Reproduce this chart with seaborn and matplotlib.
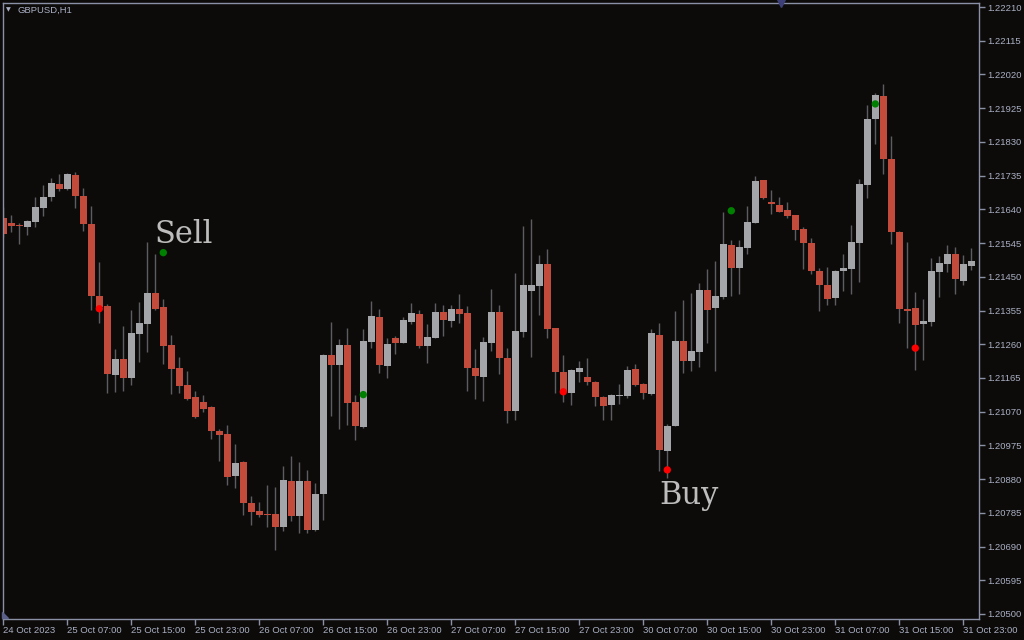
import numpy as np
import pandas as pd
import matplotlib
matplotlib.use("Agg")
import matplotlib.pyplot as plt
import seaborn as sns

# GBPUSD H1 candles (bar 0 = 24 Oct 23:00)
opens = [
    1.21616, 1.21602, 1.21597, 1.21591, 1.21605, 1.21645, 1.21676, 1.21711, 1.21698, 1.21737,
    1.21678, 1.21599, 1.21396, 1.21368, 1.21174, 1.21218, 1.21166, 1.21290, 1.21318, 1.21404,
    1.21365, 1.21258, 1.21193, 1.21145, 1.21111, 1.21097, 1.21083, 1.21016, 1.21007, 1.20889,
    1.20928, 1.20813, 1.20790, 1.20782, 1.20782, 1.20745, 1.20875, 1.20776, 1.20875, 1.20737,
    1.20838, 1.21230, 1.21201, 1.21258, 1.21097, 1.21027, 1.21266, 1.21337, 1.21199, 1.21278,
    1.21264, 1.21323, 1.21345, 1.21255, 1.21278, 1.21351, 1.21325, 1.21359, 1.21348, 1.21193,
    1.21168, 1.21264, 1.21351, 1.21221, 1.21072, 1.21294, 1.21410, 1.21424, 1.21486, 1.21306,
    1.21183, 1.21123, 1.21183, 1.21168, 1.21154, 1.21111, 1.21089, 1.21114, 1.21114, 1.21190,
    1.21148, 1.21120, 1.21286, 1.20959, 1.21030, 1.21269, 1.21213, 1.21238, 1.21413, 1.21362,
    1.21393, 1.21540, 1.21475, 1.21531, 1.21602, 1.21723, 1.21661, 1.21652, 1.21638, 1.21624,
    1.21584, 1.21545, 1.21466, 1.21427, 1.21390, 1.21466, 1.21472, 1.21545, 1.21709, 1.21894,
    1.21959, 1.21782, 1.21576, 1.21359, 1.21362, 1.21317, 1.21323, 1.21464, 1.21486, 1.21514,
    1.21437, 1.21480,
]
highs = [
    1.21647, 1.21624, 1.21602, 1.21610, 1.21675, 1.21708, 1.21727, 1.21740, 1.21741, 1.21744,
    1.21699, 1.21649, 1.21492, 1.21373, 1.21247, 1.21312, 1.21356, 1.21379, 1.21548, 1.21514,
    1.21387, 1.21286, 1.21224, 1.21185, 1.21128, 1.21117, 1.21086, 1.21021, 1.21032, 1.20979,
    1.20931, 1.20832, 1.20816, 1.20864, 1.20858, 1.20917, 1.20945, 1.20928, 1.20906, 1.20869,
    1.21232, 1.21323, 1.21275, 1.21306, 1.21117, 1.21303, 1.21382, 1.21359, 1.21278, 1.21283,
    1.21337, 1.21376, 1.21356, 1.21317, 1.21376, 1.21371, 1.21371, 1.21401, 1.21368, 1.21247,
    1.21280, 1.21416, 1.21371, 1.21249, 1.21461, 1.21593, 1.21613, 1.21511, 1.21528, 1.21307,
    1.21230, 1.21190, 1.21213, 1.21221, 1.21156, 1.21114, 1.21120, 1.21148, 1.21199, 1.21204,
    1.21151, 1.21303, 1.21320, 1.21035, 1.21354, 1.21385, 1.21404, 1.21432, 1.21472, 1.21494,
    1.21632, 1.21554, 1.21554, 1.21649, 1.21734, 1.21724, 1.21694, 1.21675, 1.21661, 1.21625,
    1.21590, 1.21559, 1.21475, 1.21478, 1.21469, 1.21514, 1.21596, 1.21725, 1.21934, 1.21968,
    1.21993, 1.21847, 1.21579, 1.21548, 1.21407, 1.21387, 1.21503, 1.21509, 1.21540, 1.21534,
    1.21511, 1.21531,
]
lows = [
    1.21562, 1.21576, 1.21542, 1.21568, 1.21591, 1.21621, 1.21664, 1.21692, 1.21694, 1.21643,
    1.21580, 1.21356, 1.21319, 1.21122, 1.21126, 1.21129, 1.21145, 1.21211, 1.21239, 1.21357,
    1.21205, 1.21121, 1.21123, 1.21103, 1.21052, 1.21069, 1.20993, 1.20931, 1.20863, 1.20855,
    1.20779, 1.20751, 1.20773, 1.20745, 1.20680, 1.20734, 1.20762, 1.20728, 1.20728, 1.20735,
    1.20765, 1.21058, 1.21021, 1.21032, 1.20990, 1.21024, 1.21249, 1.21179, 1.21165, 1.21232,
    1.21263, 1.21317, 1.21249, 1.21207, 1.21277, 1.21283, 1.21309, 1.21320, 1.21128, 1.21106,
    1.21100, 1.21241, 1.21176, 1.21038, 1.21047, 1.21280, 1.21224, 1.21342, 1.21278, 1.21123,
    1.21097, 1.21089, 1.21154, 1.21145, 1.21086, 1.21047, 1.21047, 1.21092, 1.21109, 1.21142,
    1.21106, 1.21117, 1.20903, 1.20883, 1.21029, 1.21179, 1.21185, 1.21196, 1.21264, 1.21185,
    1.21387, 1.21396, 1.21401, 1.21514, 1.21601, 1.21669, 1.21627, 1.21632, 1.21616, 1.21554,
    1.21472, 1.21458, 1.21354, 1.21371, 1.21371, 1.21410, 1.21401, 1.21435, 1.21672, 1.21824,
    1.21740, 1.21542, 1.21320, 1.21249, 1.21187, 1.21216, 1.21311, 1.21393, 1.21464, 1.21401,
    1.21427, 1.21469,
]
closes = [
    1.21571, 1.21593, 1.21594, 1.21607, 1.21647, 1.21675, 1.21714, 1.21698, 1.21740, 1.21678,
    1.21600, 1.21397, 1.21366, 1.21177, 1.21218, 1.21166, 1.21292, 1.21320, 1.21404, 1.21360,
    1.21256, 1.21190, 1.21142, 1.21106, 1.21055, 1.21078, 1.21016, 1.21004, 1.20886, 1.20925,
    1.20813, 1.20787, 1.20779, 1.20779, 1.20745, 1.20878, 1.20776, 1.20875, 1.20737, 1.20838,
    1.21230, 1.21201, 1.21258, 1.21094, 1.21030, 1.21269, 1.21340, 1.21201, 1.21261, 1.21264,
    1.21328, 1.21348, 1.21255, 1.21280, 1.21351, 1.21328, 1.21359, 1.21345, 1.21193, 1.21171,
    1.21266, 1.21351, 1.21221, 1.21072, 1.21297, 1.21427, 1.21427, 1.21486, 1.21303, 1.21183,
    1.21125, 1.21187, 1.21193, 1.21154, 1.21111, 1.21086, 1.21117, 1.21117, 1.21187, 1.21145,
    1.21123, 1.21292, 1.20962, 1.21030, 1.21269, 1.21213, 1.21241, 1.21413, 1.21356, 1.21396,
    1.21542, 1.21475, 1.21534, 1.21604, 1.21720, 1.21672, 1.21655, 1.21633, 1.21621, 1.21582,
    1.21545, 1.21466, 1.21427, 1.21387, 1.21466, 1.21475, 1.21548, 1.21711, 1.21894, 1.21962,
    1.21782, 1.21576, 1.21359, 1.21354, 1.21314, 1.21325, 1.21466, 1.21489, 1.21514, 1.21443,
    1.21486, 1.21494,
]

# indicator dots
sell_bars = [20, 45, 91, 109]
sell_prices = [1.21518, 1.21118, 1.21636, 1.21937]
buy_bars = [12, 70, 83, 114]
buy_prices = [1.21360, 1.21126, 1.20906, 1.21249]

time_labels = [
    "24 Oct 2023", "25 Oct 07:00", "25 Oct 15:00", "25 Oct 23:00",
    "26 Oct 07:00", "26 Oct 15:00", "26 Oct 23:00", "27 Oct 07:00",
    "27 Oct 15:00", "27 Oct 23:00", "30 Oct 07:00", "30 Oct 15:00",
    "30 Oct 23:00", "31 Oct 07:00", "31 Oct 15:00", "31 Oct 23:00",
]
price_ticks = [
    1.20500, 1.20595, 1.20690, 1.20785, 1.20880, 1.20975, 1.21070, 1.21165,
    1.21260, 1.21355, 1.21450, 1.21545, 1.21640, 1.21735, 1.21830, 1.21925,
    1.22020, 1.22115, 1.22210,
]

BG = "#0d0b09"
FRAME = "#8a91a6"
LABEL = "#a9b0c4"
BEAR = "#c34b3c"
BULL = "#a3a5a8"
WICK = "#5c5d60"

sns.set_style("dark", {"axes.facecolor": BG, "figure.facecolor": BG,
                       "axes.edgecolor": FRAME, "axes.grid": False})
plt.rcParams["font.family"] = ["Liberation Sans", "DejaVu Sans"]

df = pd.DataFrame({"bar": np.arange(len(opens)), "open": opens, "high": highs,
                   "low": lows, "close": closes})
df["bull"] = df["close"] >= df["open"]
df["body_lo"] = df[["open", "close"]].min(axis=1)
df["body_h"] = (df["close"] - df["open"]).abs().clip(lower=0.00003)

fig = plt.figure(figsize=(10.24, 6.4), dpi=100)
ax = fig.add_axes([2.5 / 1024, 1 - 618.5 / 640, 976 / 1024, 616 / 640])

ax.vlines(df["bar"], df["low"], df["high"], color=WICK, lw=1, zorder=1)
ax.bar(df["bar"], df["body_h"], bottom=df["body_lo"], width=0.82,
       color=np.where(df["bull"], BULL, BEAR), linewidth=0, zorder=2)

sig = pd.DataFrame({
    "bar": sell_bars + buy_bars,
    "price": sell_prices + buy_prices,
    "kind": ["sell"] * len(sell_bars) + ["buy"] * len(buy_bars),
})
sns.scatterplot(data=sig, x="bar", y="price", hue="kind",
                palette={"sell": "#008000", "buy": "#ff0000"},
                s=28, linewidth=0, legend=False, zorder=3, ax=ax)

ax.text(18.85, 1.21545, "Sell", family="DejaVu Serif", fontsize=22,
        color="#bdbdbd", ha="left", va="baseline")
ax.text(81.95, 1.20810, "Buy", family="DejaVu Serif", fontsize=22,
        color="#bdbdbd", ha="left", va="baseline")

ax.set_xlim(-0.1, 121.9)
ax.set_ylim(1.204873, 1.222227)
ax.set_xlabel("")
ax.set_ylabel("")

ax.yaxis.tick_right()
ax.set_yticks(price_ticks)
ax.set_yticklabels([f"{p:.5f}" for p in price_ticks])
ax.set_xticks(np.arange(0, 121, 8))
ax.set_xticklabels(time_labels, ha="left")
ax.tick_params(axis="both", direction="out", length=4, width=1, color=FRAME,
               labelcolor=LABEL, labelsize=6.8)
ax.tick_params(axis="x", pad=1.5, bottom=True)
ax.tick_params(axis="y", pad=2, right=True)
for t in ax.get_xticklabels():
    t.set_x(t.get_position()[0])
for s in ax.spines.values():
    s.set_color(FRAME)
    s.set_linewidth(1)

# chart shift marker and corner marker
ax.plot([0.7976], [0.9985], marker="v", markersize=6, color="#3c3f78",
        transform=ax.transAxes, clip_on=False, zorder=4)
ax.fill([0, 0, 6 / 976], [0, 6 / 616, 0], color="#5a5f8a",
        transform=ax.transAxes, clip_on=False, zorder=4)

fig.text(18 / 1024, 1 - 10 / 640, "GBPUSD,H1", fontsize=6.8, color=LABEL,
         ha="left", va="center")
fig.text(6 / 1024, 1 - 10 / 640, "\u25bc", fontsize=4.5, color=LABEL,
         ha="left", va="center", family="DejaVu Sans")

fig.savefig("out.png", dpi=100, facecolor=BG)
